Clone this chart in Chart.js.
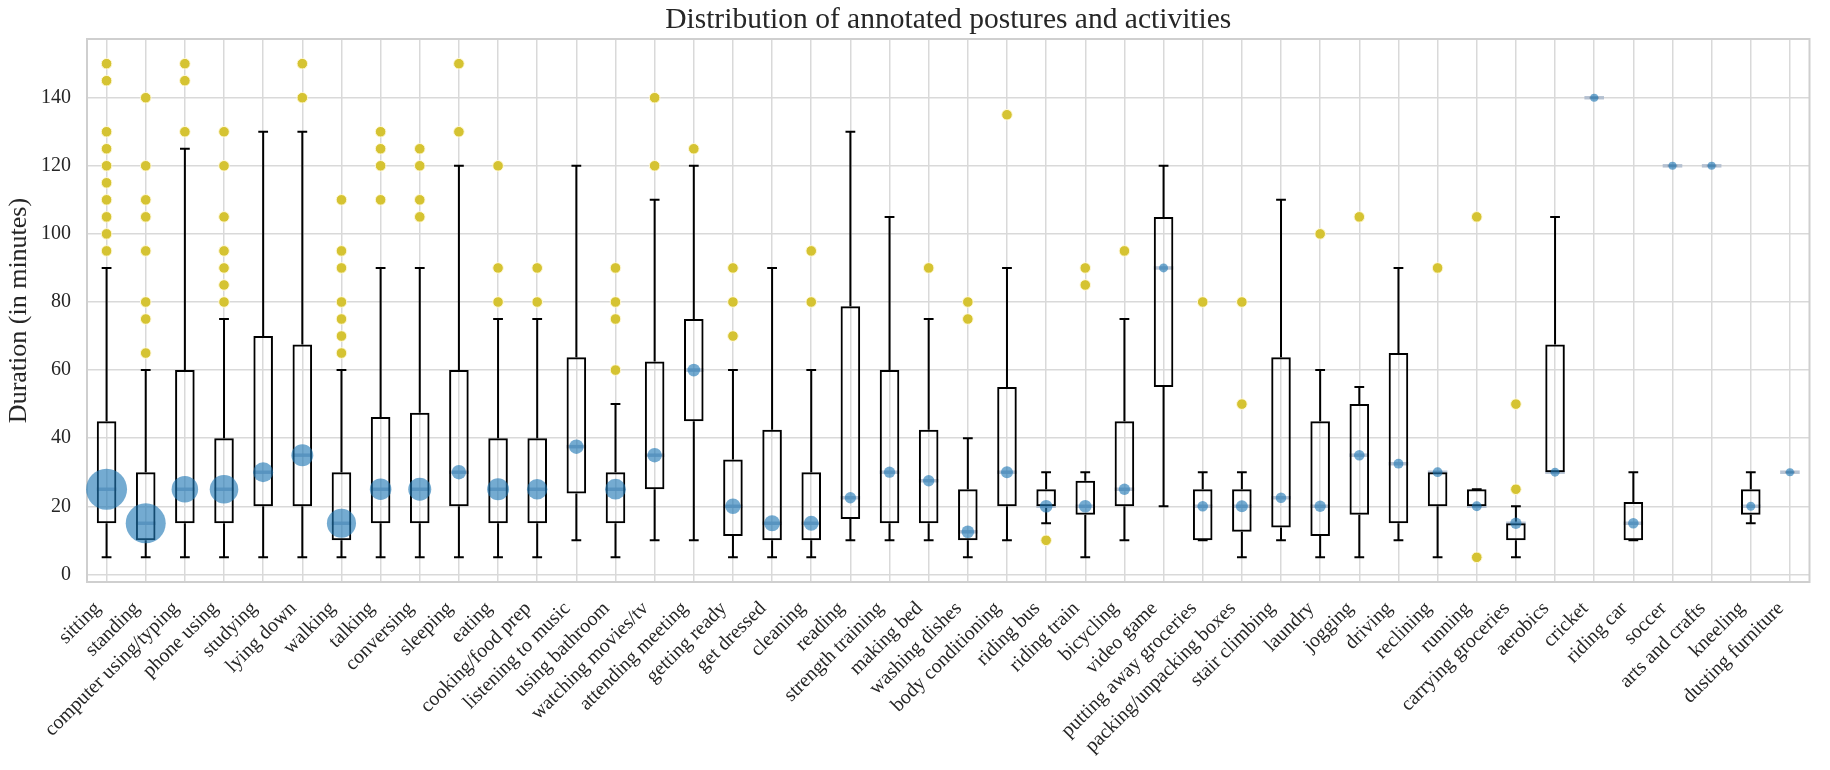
<!DOCTYPE html>
<html><head><meta charset="utf-8">
<script src="https://cdn.jsdelivr.net/npm/chart.js@4.4.1/dist/chart.umd.min.js"></script>
<style>html,body{margin:0;padding:0;background:#fff;}canvas{display:block;}</style>
</head><body>
<canvas id="c" width="1830" height="770"></canvas>
<script>
const categories = ['sitting','standing','computer using/typing','phone using','studying','lying down','walking','talking','conversing','sleeping','eating','cooking/food prep','listening to music','using bathroom','watching movies/tv','attending meeting','getting ready','get dressed','cleaning','reading','strength training','making bed','washing dishes','body conditioning','riding bus','riding train','bicycling','video game','putting away groceries','packing/unpacking boxes','stair climbing','laundry','jogging','driving','reclining','running','carrying groceries','aerobics','cricket','riding car','soccer','arts and crafts','kneeling','dusting furniture'];
const whiskerLow  = [5,5,5,5,5,5,5,5,5,5,5,5,10,5,10,10,5,5,5,10,10,10,5,10,15,5,10,20,10,5,10,5,5,10,5,20,5,30,140,10,120,120,15,30];
const q1          = [15,10,15,15,20,20,10,15,15,20,15,15,23.75,15,25,45,11.25,10,10,16.25,15,15,10,20,20,17.5,20,55,10,12.5,13.75,11.25,17.5,15,20,20,10,30,140,10,120,120,17.5,30];
const medians     = [25,15,25,25,30,35,15,25,25,30,25,25,37.5,25,35,60,20,15,15,22.5,30,27.5,12.5,30,20,20,25,90,20,20,22.5,20,35,32.5,30,20,15,30,140,15,120,120,20,30];
const q3          = [45,30,60,40,70,67.5,30,46.25,47.5,60,40,40,63.75,30,62.5,75,33.75,42.5,30,78.75,60,42.5,25,55,25,27.5,45,105,25,25,63.75,45,50,65,30,25,15,67.5,140,21.25,120,120,25,30];
const whiskerHigh = [90,60,125,75,130,130,60,90,90,120,75,75,120,50,110,120,60,90,60,130,105,75,40,90,30,30,75,120,30,30,110,60,55,90,30,25,20,105,140,30,120,120,30,30];
const counts      = [105,100,44,51,25,30,53,29,33,13,30,26,13,27,13,10,15,16,14,8,8,8,10,9,10,10,8,5,7,9,7,8,7,6,6,6,8,5,4,7,4,4,5,4];
const outliers = [
  [95,100,105,110,115,120,125,130,145,150],
  [65,75,80,95,105,110,120,140],
  [130,145,150],
  [80,85,90,95,105,120,130],
  [],
  [140,150],
  [65,70,75,80,90,95,110],
  [110,120,125,130],
  [105,110,120,125],
  [130,150],
  [80,90,120],
  [80,90],
  [],
  [60,75,80,90],
  [120,140],
  [125],
  [70,80,90],
  [],
  [80,95],
  [],
  [],
  [90],
  [75,80],
  [135],
  [10],
  [85,90],
  [95],
  [],
  [80],
  [50,80],
  [],
  [100],
  [105],
  [],
  [90],
  [5,105],
  [25,50],
  [],[],[],[],[],[],[]
];
const yTicks = [0,20,40,60,80,100,120,140];
const titleText = 'Distribution of annotated postures and activities';
const yAxisTitle = 'Duration (in minutes)';

const FONT = "'Liberation Serif','Times New Roman',serif";
Chart.defaults.font.family = FONT;
Chart.defaults.color = '#262626';

const outlierPoints = [];
outliers.forEach((list, i) => list.forEach(v => outlierPoints.push({x: categories[i], y: v})));

const boxParts = {
  id: 'boxParts',
  beforeDatasetsDraw(chart) {
    const {ctx, chartArea: a, scales: {x, y}} = chart;
    const step = Math.abs(x.getPixelForValue(1) - x.getPixelForValue(0));
    ctx.save();
    ctx.strokeStyle = '#cfcfcf';
    ctx.lineWidth = 2;
    ctx.strokeRect(a.left, a.top, a.right - a.left, a.bottom - a.top);
    ctx.strokeStyle = '#000';
    ctx.lineWidth = 2;
    ctx.lineCap = 'butt';
    categories.forEach((c, i) => {
      const px = x.getPixelForValue(i);
      const cap = step * 0.125;
      const hy = y.getPixelForValue(whiskerHigh[i]);
      const ly = y.getPixelForValue(whiskerLow[i]);
      ctx.beginPath();
      ctx.moveTo(px, y.getPixelForValue(q3[i]));
      ctx.lineTo(px, hy);
      ctx.moveTo(px, y.getPixelForValue(q1[i]));
      ctx.lineTo(px, ly);
      ctx.moveTo(px - cap, hy); ctx.lineTo(px + cap, hy);
      ctx.moveTo(px - cap, ly); ctx.lineTo(px + cap, ly);
      ctx.stroke();
    });
    ctx.strokeStyle = 'rgba(172,186,204,0.85)';
    ctx.lineWidth = 3.5;
    categories.forEach((c, i) => {
      const px = x.getPixelForValue(i);
      const half = step * 0.25;
      const my = y.getPixelForValue(medians[i]);
      ctx.beginPath();
      ctx.moveTo(px - half, my); ctx.lineTo(px + half, my);
      ctx.stroke();
    });
    ctx.restore();
  }
};

new Chart(document.getElementById('c'), {
  type: 'bar',
  data: {
    labels: categories,
    datasets: [
      {
        type: 'scatter', label: 'outliers', order: 1,
        data: outlierPoints,
        backgroundColor: '#d5c332', borderColor: '#fff8d8', borderWidth: 1,
        pointRadius: 5.3, pointHoverRadius: 5.3
      },
      {
        type: 'bubble', label: 'median', order: 2,
        data: categories.map((c, i) => ({x: c, y: medians[i], r: 2 * Math.sqrt(counts[i])})),
        backgroundColor: 'rgba(31,119,180,0.62)', borderWidth: 0
      },
      {
        type: 'bar', label: 'IQR', order: 3,
        data: categories.map((c, i) => [q1[i], q3[i]]),
        backgroundColor: 'rgba(0,0,0,0)', borderColor: '#000', borderWidth: 2,
        borderSkipped: false, barPercentage: 0.5, categoryPercentage: 1
      }
    ]
  },
  options: {
    responsive: false,
    animation: false,
    devicePixelRatio: 1,
    layout: {padding: {left: 0, right: 9, top: 0, bottom: 0}},
    plugins: {
      legend: {display: false},
      tooltip: {enabled: false},
      title: {
        display: true, text: titleText, color: '#262626', fullSize: false,
        font: {size: 29.5, weight: 'normal', lineHeight: 1.2},
        padding: {top: 2.8, bottom: 0.8}
      }
    },
    scales: {
      x: {
        type: 'category', offset: true,
        grid: {offset: false, color: '#d9d9d9', lineWidth: 1.5, drawTicks: false},
        border: {display: false},
        ticks: {autoSkip: false, minRotation: 45, maxRotation: 45, font: {size: 20}, padding: 15, labelOffset: -9, color: '#262626'},
        afterFit(s) { s.height = 188; }
      },
      y: {
        min: -2.25, max: 157.25,
        afterBuildTicks(s) { s.ticks = yTicks.map(v => ({value: v})); },
        grid: {color: '#d9d9d9', lineWidth: 1.5, drawTicks: false},
        border: {display: false},
        ticks: {font: {size: 20}, padding: 16, color: '#262626'},
        title: {display: true, text: yAxisTitle, color: '#262626', font: {size: 26}, padding: {top: 4, bottom: 0}},
        afterFit(s) { s.width = 87; }
      }
    }
  },
  plugins: [boxParts]
});
</script>
</body></html>
